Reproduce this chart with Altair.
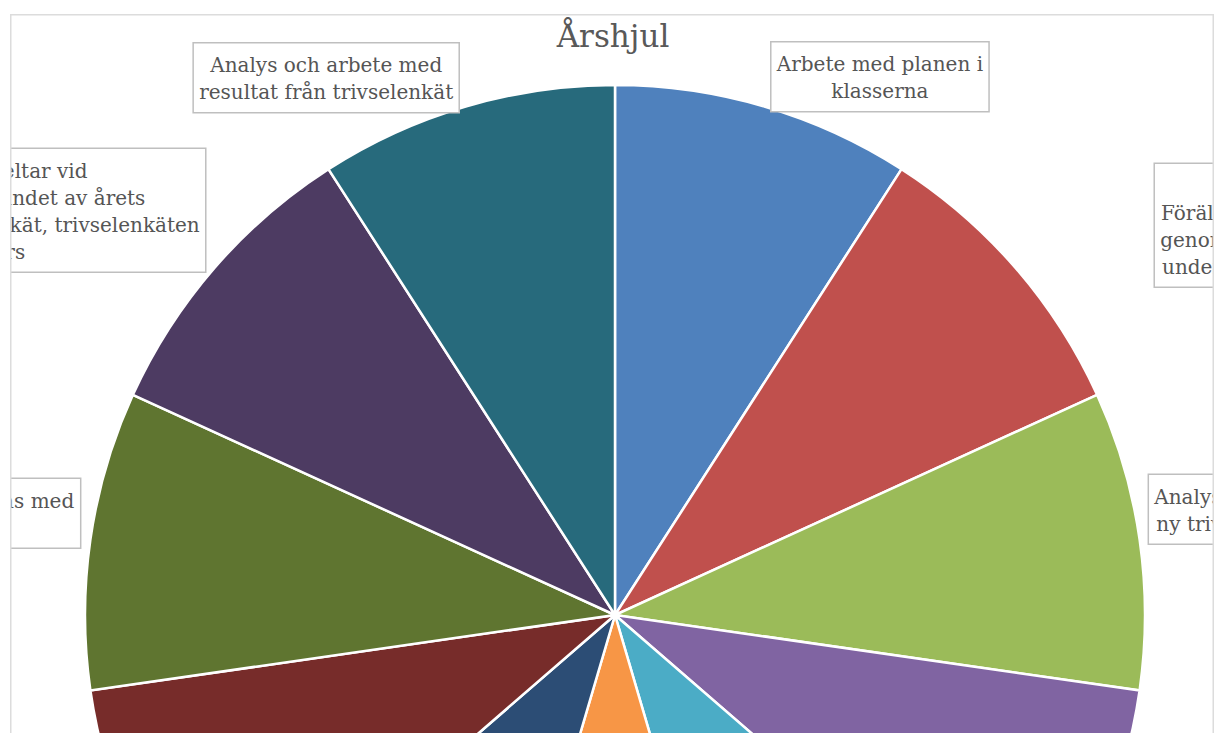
import math
import altair as alt
import pandas as pd

# ---------------- data ----------------
slice_ids = list(range(1, 12))
slice_values = [1, 1, 1, 1, 1, 1, 1, 1, 1, 1, 1]
slice_labels = [
    "Arbete med planen i\nklasserna",
    "Ny plan\nFöräldrar informeras\ngenom hemsidan och\nunder föräldramöten",
    "Analys av resultatet från\nny trivselenkät i klassen",
    "Arbete med värdegrunden\ni alla klasser",
    "Kartläggning av\ntrygghet och trivsel",
    "Trivselenkät\ngenomförs",
    "Utvärdering av\nårets plan",
    "Ny plan\nupprättas",
    "Planen utvärderas med\neleverna",
    "Elever deltar vid\noch genomförandet av årets\nplanen, trygghetsenkät, trivselenkäten\ngörs",
    "Analys och arbete med\nresultat från trivselenkät",
]
slice_colors = ["#4F81BD", "#C0504D", "#9BBB59", "#8064A2", "#4BACC6", "#F79646",
                "#2C4D75", "#772C2A", "#5F7530", "#4D3B62", "#276A7C"]
title_text = "Årshjul"

# ---------------- layout ----------------
OX, OY = 10, 14            # view origin on the page
W, H = 1204, 760
CX, CY, R = 615 - OX, 615 - OY, 530
FS, LH = 20, 27
LABEL_R = 560
# per-label nudges of the callout boxes (Excel "best fit" placement)
nudges = [(-2, -1), (116, -23), (-21, -26), (0, 0), (0, 0), (0, 0),
          (0, 0), (0, 0), (20, -22), (14, -38), (2, 0)]

CW = {"a": .596, "b": .640, "c": .560, "d": .640, "e": .592, "f": .370, "g": .640,
      "h": .644, "i": .320, "j": .320, "k": .609, "l": .320, "m": .948, "n": .644,
      "o": .602, "p": .640, "q": .640, "r": .478, "s": .513, "t": .402, "u": .644,
      "v": .565, "w": .832, "x": .581, "y": .565, "z": .523, "å": .596, "ä": .596,
      "ö": .602, " ": .318, ",": .318, ".": .318}


def text_w(s):
    return sum(CW.get(ch, 0.72) for ch in s) * FS


total = sum(slice_values)
rows, boxes = [], []
cum = 0
for i, (v, lab) in enumerate(zip(slice_values, slice_labels)):
    mid = (cum + v / 2) / total * 2 * math.pi
    cum += v
    px = CX + LABEL_R * math.sin(mid) + nudges[i][0]
    py = CY - LABEL_R * math.cos(mid) + nudges[i][1]
    lines = lab.split("\n")
    bw = max(text_w(l) for l in lines) + 12
    bh = len(lines) * LH + 16
    if math.sin(mid) >= 0:
        x1, x2 = px, px + bw
    else:
        x1, x2 = px - bw, px
    boxes.append({"x1": x1, "x2": x2, "y1": py - bh / 2, "y2": py + bh / 2})
    rows.append({"tx": (x1 + x2) / 2, "ty": py - (len(lines) - 1) * LH / 2 + 2, "label": lab})

pie_df = pd.DataFrame({"id": slice_ids, "value": slice_values,
                       "name": [l.replace("\n", " ") for l in slice_labels]})
box_df = pd.DataFrame(boxes)
lab_df = pd.DataFrame(rows)

pie = alt.Chart(pie_df).mark_arc(radius=R, stroke="white", strokeWidth=2.5, clip=True).encode(
    theta=alt.Theta("value:Q", stack=True),
    order=alt.Order("id:Q"),
    color=alt.Color("id:N", scale=alt.Scale(domain=slice_ids, range=slice_colors), legend=None),
    x=alt.value(CX),
    y=alt.value(CY),
)

box_layer = alt.Chart(box_df).mark_rect(fill="white", stroke="#bfbfbf", strokeWidth=1.5, clip=True).encode(
    x=alt.X("x1:Q", scale=None, axis=None),
    x2="x2:Q",
    y=alt.Y("y1:Q", scale=None, axis=None),
    y2="y2:Q",
)

text_layer = alt.Chart(lab_df).mark_text(
    font="DejaVu Serif", fontSize=FS, lineHeight=LH, lineBreak="\n",
    color="#555555", align="center", baseline="middle", clip=True
).encode(
    x=alt.X("tx:Q", scale=None, axis=None),
    y=alt.Y("ty:Q", scale=None, axis=None),
    text="label:N",
)

title_layer = alt.Chart(pd.DataFrame({"t": [title_text]})).mark_text(
    font="DejaVu Serif", fontSize=31, color="#595959", align="center", baseline="alphabetic"
).encode(x=alt.value(613 - OX), y=alt.value(47 - OY), text="t:N")

frame = alt.Chart(pd.DataFrame({"f": [0]})).mark_rect(
    fill=None, stroke="#dcdcdc", strokeWidth=1.5
).encode(x=alt.value(0.75), x2=alt.value(W - 0.75), y=alt.value(0.75), y2=alt.value(H + 40))

chart = alt.layer(pie, box_layer, text_layer, title_layer, frame).properties(
    width=W, height=H,
    autosize=alt.AutoSizeParams(type="none"),
    padding={"left": 2, "top": 6, "right": 0, "bottom": 0},
    background="white",
).configure_view(stroke=None)

chart.save("out.html", embed_options={"renderer": "svg", "actions": False})
